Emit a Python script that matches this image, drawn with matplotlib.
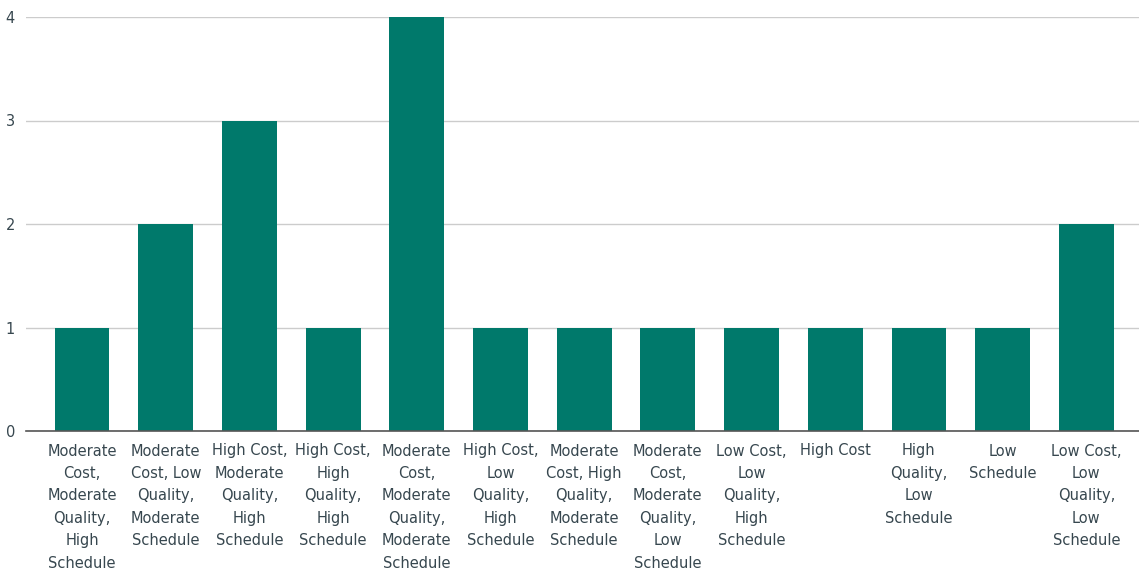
import matplotlib
matplotlib.use("Agg")
import matplotlib.pyplot as plt

plt.rcParams["font.family"] = ["DejaVu Sans"]

categories = [
    "Moderate\nCost,\nModerate\nQuality,\nHigh\nSchedule",
    "Moderate\nCost, Low\nQuality,\nModerate\nSchedule",
    "High Cost,\nModerate\nQuality,\nHigh\nSchedule",
    "High Cost,\nHigh\nQuality,\nHigh\nSchedule",
    "Moderate\nCost,\nModerate\nQuality,\nModerate\nSchedule",
    "High Cost,\nLow\nQuality,\nHigh\nSchedule",
    "Moderate\nCost, High\nQuality,\nModerate\nSchedule",
    "Moderate\nCost,\nModerate\nQuality,\nLow\nSchedule",
    "Low Cost,\nLow\nQuality,\nHigh\nSchedule",
    "High Cost",
    "High\nQuality,\nLow\nSchedule",
    "Low\nSchedule",
    "Low Cost,\nLow\nQuality,\nLow\nSchedule",
]
counts = [1, 2, 3, 1, 4, 1, 1, 1, 1, 1, 1, 1, 2]
y_ticks = [0, 1, 2, 3, 4]

W, H = 1139, 572
fig = plt.figure(figsize=(W / 100, H / 100), dpi=100)
ax = fig.add_axes([26 / W, 141 / H, 1 - 26 / W, (431 - 17) / H])

bar_color = "#00796b"
text_color = "#37474f"

x = list(range(len(categories)))
ax.bar(x, counts, width=0.655, color=bar_color, zorder=3)

ax.set_xlim(-0.67, len(categories) - 1 + 0.63)
ax.set_ylim(0, 4)
ax.set_yticks(y_ticks)
ax.set_yticklabels([str(v) for v in y_ticks], fontsize=10.5, color=text_color)
ax.set_xticks(x)
ax.set_xticklabels(categories, fontsize=10.5, color=text_color,
                   linespacing=1.62, va="top")

ax.grid(axis="y", color="#cccccc", linewidth=1, zorder=0)
ax.set_axisbelow(True)
for side in ("top", "right", "left"):
    ax.spines[side].set_visible(False)
ax.spines["bottom"].set_color("#555555")
ax.spines["bottom"].set_linewidth(1.2)
ax.spines["bottom"].set_zorder(4)
ax.tick_params(axis="both", length=0)
ax.tick_params(axis="x", pad=9)
ax.tick_params(axis="y", pad=8)

fig.savefig("out.png", dpi=100)
